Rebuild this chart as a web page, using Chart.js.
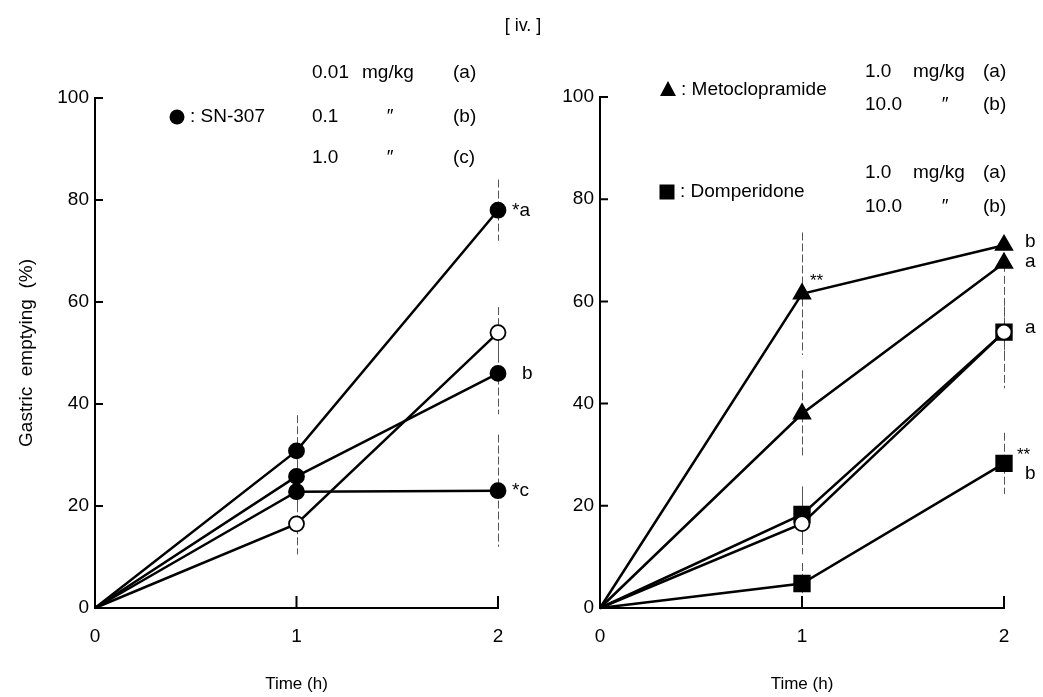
<!DOCTYPE html>
<html>
<head>
<meta charset="utf-8">
<script src="https://cdn.jsdelivr.net/npm/chart.js@4.4.0/dist/chart.umd.min.js"></script>
<style>
    html, body { margin: 0; padding: 0; background: #fff; }
    #wrap { position: relative; width: 1043px; height: 697px; }
    #leftChart { position: absolute; left: 0; top: 0; }
    #rightChart { position: absolute; left: 521px; top: 0; }
    #route {
        position: absolute; left: 478px; top: 15px; width: 90px;
        text-align: center; font: 18px 'Liberation Sans', Arial, sans-serif; color: #000;
    }
</style>
</head>
<body>
<div id="wrap">
    <canvas id="leftChart" width="550" height="697"></canvas>
    <canvas id="rightChart" width="522" height="697"></canvas>
    <div id="route">[ iv. ]</div>
</div>
<script>
// Sampling times (h)
const times = [0, 1, 2];
const xTicks = [0, 1, 2];
const yTicks = [0, 20, 40, 60, 80, 100];

// Gastric emptying (%) - control (open circles, both panels)
const control = [0, 16.5, 54];
const controlSem = [0, 6, 5];

// SN-307: 0.01 (a), 0.1 (b), 1.0 (c) mg/kg
const snA = [0, 30.8, 78];
const snASem = [0, 7, 6];
const snB = [0, 25.8, 46];
const snBSem = [0, 3, 8];
const snC = [0, 22.8, 23];
const snCSem = [0, 3, 11];

// Metoclopramide: 1.0 (a), 10.0 (b) mg/kg
const metoA = [0, 38, 67.5];
const metoASem = [0, 8.5, 2];
const metoB = [0, 61.5, 71];
const metoBSem = [0, 12, 0];

// Domperidone: 1.0 (a), 10.0 (b) mg/kg
const domA = [0, 18.3, 54];
const domASem = [0, 5.5, 11];
const domB = [0, 4.8, 28.3];
const domBSem = [0, 4, 6];

const FONT = "'Liberation Sans', Arial, sans-serif";

const toPoints = (vals) => vals.map((v, i) => ({ x: times[i], y: v }));

const makeSeries = (vals, sem, style, filled, radius) => ({
    data: toPoints(vals),
    sem: sem,
    clip: false,
    borderColor: '#000',
    borderWidth: 2.5,
    pointStyle: style,
    pointRadius: vals.map((v, i) => (i === 0 ? 0 : radius)),
    pointHoverRadius: vals.map((v, i) => (i === 0 ? 0 : radius)),
    pointBackgroundColor: filled ? '#000' : '#fff',
    pointBorderColor: '#000',
    pointBorderWidth: 1.8,
    tension: 0
});

// thin vertical SEM bars, drawn under the lines
const errorBars = {
    id: 'errorBars',
    beforeDatasetsDraw(chart) {
        const { ctx, scales: { x, y } } = chart;
        ctx.save();
        ctx.strokeStyle = '#555';
        ctx.lineWidth = 1;
        ctx.setLineDash([8, 3]);
        chart.data.datasets.forEach(ds => {
            ds.data.forEach((p, i) => {
                const s = ds.sem[i];
                if (!s) return;
                const px = Math.round(x.getPixelForValue(p.x)) + 0.5;
                ctx.beginPath();
                ctx.moveTo(px, y.getPixelForValue(p.y + s));
                ctx.lineTo(px, y.getPixelForValue(p.y - s));
                ctx.stroke();
            });
        });
        ctx.restore();
    }
};

// tick marks point into the plot area
const innerTicks = {
    id: 'innerTicks',
    afterDraw(chart) {
        const { ctx, scales: { x, y } } = chart;
        ctx.save();
        ctx.strokeStyle = '#000';
        ctx.lineWidth = 2;
        ctx.beginPath();
        yTicks.forEach(v => {
            const py = y.getPixelForValue(v);
            ctx.moveTo(x.left, py);
            ctx.lineTo(x.left + 8, py);
        });
        xTicks.slice(1).forEach(v => {
            const px = x.getPixelForValue(v);
            ctx.moveTo(px, y.bottom);
            ctx.lineTo(px, y.bottom - 12);
        });
        ctx.stroke();
        ctx.restore();
    }
};

// significance / dose letters beside the points
const pointNotes = {
    id: 'pointNotes',
    afterDatasetsDraw(chart, args, opts) {
        const { ctx, scales: { x, y } } = chart;
        ctx.save();
        ctx.fillStyle = '#000';
        ctx.textAlign = 'left';
        ctx.textBaseline = 'middle';
        (opts.notes || []).forEach(n => {
            const p = chart.data.datasets[n.ds].data[n.i];
            ctx.font = (n.size || 19) + 'px ' + FONT;
            ctx.fillText(n.text, x.getPixelForValue(p.x) + n.dx, y.getPixelForValue(p.y) + n.dy);
        });
        ctx.restore();
    }
};

const drawMarker = (ctx, style, cx, cy) => {
    ctx.fillStyle = '#000';
    ctx.beginPath();
    if (style === 'circle') {
        ctx.arc(cx, cy, 7.5, 0, Math.PI * 2);
    } else if (style === 'triangle') {
        ctx.moveTo(cx, cy - 9);
        ctx.lineTo(cx + 8, cy + 6);
        ctx.lineTo(cx - 8, cy + 6);
        ctx.closePath();
    } else {
        ctx.rect(cx - 7.5, cy - 7.5, 15, 15);
    }
    ctx.fill();
};

// drug key with dose table
const doseKey = {
    id: 'doseKey',
    afterDraw(chart, args, opts) {
        const ctx = chart.ctx;
        ctx.save();
        ctx.textBaseline = 'middle';
        (opts.groups || []).forEach(g => {
            drawMarker(ctx, g.marker, g.mx, g.my);
            ctx.font = '19px ' + FONT;
            ctx.fillStyle = '#000';
            ctx.textAlign = 'left';
            ctx.fillText(': ' + g.name, g.mx + 13, g.my);
            g.rows.forEach(r => {
                ctx.textAlign = 'left';
                ctx.fillText(r.dose, g.doseX, r.y);
                if (r.unit === '″') {
                    ctx.textAlign = 'center';
                    ctx.fillText(r.unit, g.dittoX, r.y);
                } else {
                    ctx.fillText(r.unit, g.unitX, r.y);
                }
                ctx.textAlign = 'left';
                ctx.fillText(r.tag, g.tagX, r.y);
            });
        });
        ctx.restore();
    }
};

const buildScales = (yWidth, showTitle) => ({
    x: {
        type: 'linear',
        min: 0,
        max: 2,
        afterBuildTicks: (scale) => { scale.ticks = xTicks.map(v => ({ value: v })); },
        afterFit: (scale) => { scale.height = 89; },
        grid: { display: false, drawTicks: false },
        border: { display: true, color: '#000', width: 2 },
        ticks: { color: '#000', padding: 17, font: { family: FONT, size: 19 } },
        title: {
            display: true,
            text: 'Time (h)',
            color: '#000',
            padding: { top: 4, bottom: 2 },
            font: { family: FONT, size: 17 }
        }
    },
    y: {
        min: 0,
        max: 100,
        afterBuildTicks: (scale) => { scale.ticks = yTicks.map(v => ({ value: v })); },
        afterFit: (scale) => { scale.width = yWidth; },
        grid: { display: false, drawTicks: false },
        border: { display: true, color: '#000', width: 2 },
        ticks: { color: '#000', padding: 6, font: { family: FONT, size: 19 } },
        title: {
            display: showTitle,
            text: 'Gastric  emptying  (%)',
            color: '#000',
            padding: { top: 15, bottom: 0 },
            font: { family: FONT, size: 19 }
        }
    }
});

const baseOptions = (yWidth, showTitle, padding) => ({
    responsive: false,
    animation: false,
    layout: { padding: padding },
    plugins: { legend: { display: false }, tooltip: { enabled: false } },
    scales: buildScales(yWidth, showTitle)
});

// Left panel: SN-307
const leftOptions = baseOptions(95, true, { top: 98, right: 52, left: 0, bottom: 0 });
leftOptions.plugins.pointNotes = {
    notes: [
        { ds: 1, i: 2, text: '*a', dx: 14, dy: 1 },
        { ds: 2, i: 2, text: 'b', dx: 24, dy: 0 },
        { ds: 3, i: 2, text: '*c', dx: 14, dy: 0 }
    ]
};
leftOptions.plugins.doseKey = {
    groups: [{
        marker: 'circle', name: 'SN-307', mx: 177, my: 117,
        doseX: 312, unitX: 362, dittoX: 390, tagX: 453,
        rows: [
            { dose: '0.01', unit: 'mg/kg', tag: '(a)', y: 73 },
            { dose: '0.1', unit: '″', tag: '(b)', y: 117 },
            { dose: '1.0', unit: '″', tag: '(c)', y: 158 }
        ]
    }]
};

new Chart(document.getElementById('leftChart'), {
    type: 'line',
    data: {
        datasets: [
            makeSeries(control, controlSem, 'circle', false, 7.5),
            makeSeries(snA, snASem, 'circle', true, 7.5),
            makeSeries(snB, snBSem, 'circle', true, 7.5),
            makeSeries(snC, snCSem, 'circle', true, 7.5)
        ]
    },
    options: leftOptions,
    plugins: [errorBars, innerTicks, pointNotes, doseKey]
});

// Right panel: metoclopramide and domperidone
const rightOptions = baseOptions(79, false, { top: 97, right: 39, left: 0, bottom: 0 });
rightOptions.plugins.pointNotes = {
    notes: [
        { ds: 2, i: 1, text: '**', dx: 8, dy: -12, size: 17 },
        { ds: 2, i: 2, text: 'b', dx: 21, dy: -3 },
        { ds: 1, i: 2, text: 'a', dx: 21, dy: -1 },
        { ds: 3, i: 2, text: 'a', dx: 21, dy: -4 },
        { ds: 4, i: 2, text: '**', dx: 13, dy: -8, size: 17 },
        { ds: 4, i: 2, text: 'b', dx: 21, dy: 10 }
    ]
};
rightOptions.plugins.doseKey = {
    groups: [
        {
            marker: 'triangle', name: 'Metoclopramide', mx: 147, my: 90,
            doseX: 344, unitX: 392, dittoX: 424, tagX: 462,
            rows: [
                { dose: '1.0', unit: 'mg/kg', tag: '(a)', y: 72 },
                { dose: '10.0', unit: '″', tag: '(b)', y: 105 }
            ]
        },
        {
            marker: 'rect', name: 'Domperidone', mx: 146, my: 192,
            doseX: 344, unitX: 392, dittoX: 424, tagX: 462,
            rows: [
                { dose: '1.0', unit: 'mg/kg', tag: '(a)', y: 173 },
                { dose: '10.0', unit: '″', tag: '(b)', y: 207 }
            ]
        }
    ]
};

new Chart(document.getElementById('rightChart'), {
    type: 'line',
    data: {
        datasets: [
            makeSeries(control, controlSem, 'circle', false, 7.5),
            makeSeries(metoA, metoASem, 'triangle', true, 9.5),
            makeSeries(metoB, metoBSem, 'triangle', true, 9.5),
            makeSeries(domA, domASem, 'rect', true, 11),
            makeSeries(domB, domBSem, 'rect', true, 11)
        ]
    },
    options: rightOptions,
    plugins: [errorBars, innerTicks, pointNotes, doseKey]
});
</script>
</body>
</html>
